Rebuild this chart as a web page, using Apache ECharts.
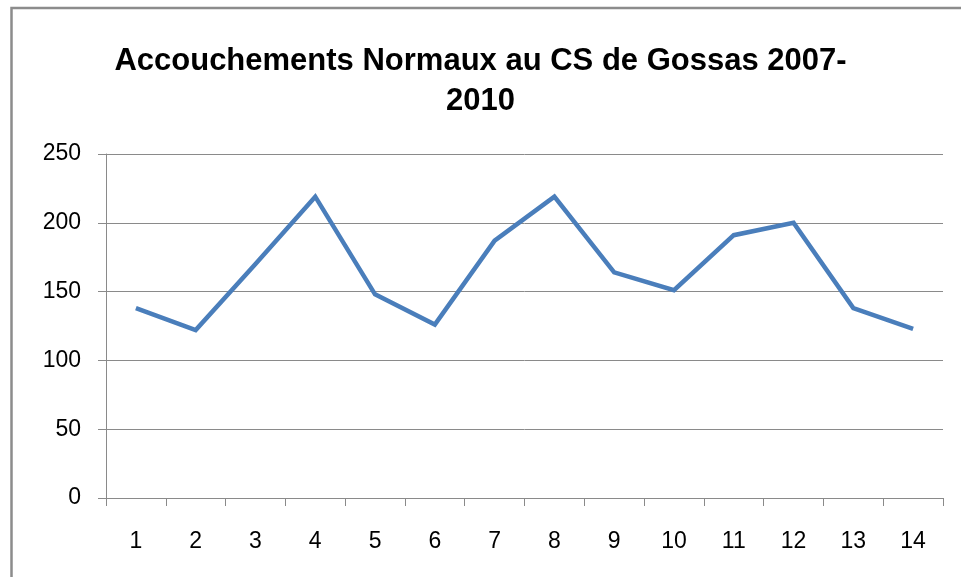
<!DOCTYPE html>
<html>
<head>
<meta charset="utf-8">
<script src="https://cdn.jsdelivr.net/npm/echarts@6/dist/echarts.min.js"></script>
<style>
  html, body { margin: 0; padding: 0; background: #fff; }
  #chart { width: 961px; height: 577px; }
</style>
</head>
<body>
<div id="chart"></div>
<script>
// Accouchements normaux, CS de Gossas 2007-2010
const categories = ['1', '2', '3', '4', '5', '6', '7', '8', '9', '10', '11', '12', '13', '14'];
const accouchements = [138, 122, 170, 219, 148, 126, 187, 219, 164, 151, 191, 200, 138, 123];
const yTicks = { min: 0, max: 250, interval: 50 };

const fontName = "'Liberation Sans', Arial, sans-serif";
const gridGray = '#8a8a8a';

const chart = echarts.init(document.getElementById('chart'));
chart.setOption({
    backgroundColor: '#fff',
    animation: false,
    title: {
        text: 'Accouchements Normaux au CS de Gossas 2007-\n2010',
        left: 'center',
        top: 36,
        textStyle: {
            fontFamily: fontName,
            fontWeight: 'bold',
            fontSize: 31,
            lineHeight: 40,
            color: '#000'
        }
    },
    graphic: [{
        type: 'rect',
        shape: { x: 11.5, y: 8, width: 1000, height: 1000 },
        style: { fill: 'none', stroke: '#8c8c8c', lineWidth: 2.5 },
        silent: true
    }],
    grid: { left: 106, right: 18, top: 154, bottom: 79 },
    xAxis: {
        type: 'category',
        data: categories,
        boundaryGap: true,
        axisLine: { lineStyle: { color: gridGray, width: 1 } },
        axisTick: { show: true, length: 8, lineStyle: { color: gridGray } },
        axisLabel: { margin: 32, fontFamily: fontName, fontSize: 23, color: '#000' }
    },
    yAxis: {
        type: 'value',
        min: yTicks.min,
        max: yTicks.max,
        interval: yTicks.interval,
        axisLine: { show: true, lineStyle: { color: gridGray, width: 1 } },
        axisTick: { show: true, length: 8, lineStyle: { color: gridGray } },
        axisLabel: { margin: 25, fontFamily: fontName, fontSize: 23, color: '#000' },
        splitLine: { lineStyle: { color: gridGray, width: 1 } }
    },
    series: [{
        type: 'line',
        data: accouchements,
        symbol: 'none',
        lineStyle: { color: '#4a7ebb', width: 4.5, join: 'miter' },
        itemStyle: { color: '#4a7ebb' }
    }]
});
</script>
</body>
</html>
